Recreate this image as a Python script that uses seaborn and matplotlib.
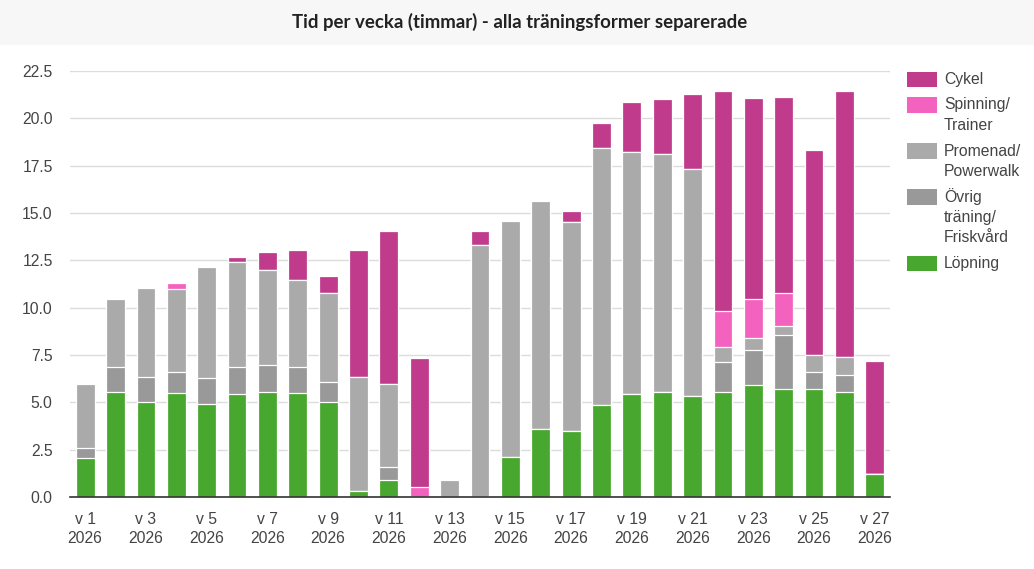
import numpy as np
import pandas as pd
import matplotlib
matplotlib.use("Agg")
import matplotlib.pyplot as plt
from matplotlib.patches import Rectangle
import seaborn as sns

weeks = [f"v {i}" for i in range(1, 28)]
year = "2026"

lopning = [2.05, 5.55, 5.0, 5.5, 4.9, 5.45, 5.55, 5.5, 5.0, 0.3, 0.9, 0.0, 0.0, 0.0,
           2.1, 3.6, 3.5, 4.85, 5.45, 5.55, 5.35, 5.55, 5.9, 5.7, 5.7, 5.55, 1.2]
ovrig = [0.55, 1.3, 1.35, 1.1, 1.4, 1.4, 1.4, 1.35, 1.05, 0.0, 0.7, 0.0, 0.0, 0.0,
         0.0, 0.0, 0.0, 0.0, 0.0, 0.0, 0.0, 1.6, 1.85, 2.85, 0.9, 0.9, 0.0]
promenad = [3.35, 3.6, 4.7, 4.4, 5.85, 5.55, 5.05, 4.6, 4.7, 6.05, 4.35, 0.0, 0.9, 13.3,
            12.5, 12.05, 11.0, 13.6, 12.75, 12.55, 12.0, 0.75, 0.65, 0.5, 0.9, 0.95, 0.0]
spinning = [0.0, 0.0, 0.0, 0.3, 0.0, 0.0, 0.0, 0.0, 0.0, 0.0, 0.0, 0.55, 0.0, 0.0,
            0.0, 0.0, 0.0, 0.0, 0.0, 0.0, 0.0, 1.95, 2.05, 1.7, 0.0, 0.0, 0.0]
cykel = [0.0, 0.0, 0.0, 0.0, 0.0, 0.3, 0.95, 1.6, 0.9, 6.7, 8.1, 6.8, 0.0, 0.75,
         0.0, 0.0, 0.6, 1.3, 2.65, 2.9, 3.95, 11.6, 10.65, 10.4, 10.85, 14.05, 6.0]

series_names = ["Löpning", "Övrig träning/Friskvård", "Promenad/Powerwalk", "Spinning/Trainer", "Cykel"]
legend_labels = ["Löpning", "Övrig\nträning/\nFriskvård", "Promenad/\nPowerwalk", "Spinning/\nTrainer", "Cykel"]
colors = ["#48a72e", "#999999", "#aaaaaa", "#f462bf", "#c13b8c"]

values = [lopning, ovrig, promenad, spinning, cykel]
cum = np.cumsum(np.array(values), axis=0)

sns.set_theme(style="white")
plt.rcParams["font.family"] = ["Liberation Sans", "DejaVu Sans"]

W, H = 1034, 569
fig = plt.figure(figsize=(W / 100, H / 100), dpi=100)
ax = fig.add_axes([70 / W, 72 / H, 820 / W, 426 / H])

# title band
fig.patches.append(Rectangle((0, 1 - 45 / H), 1, 45 / H, transform=fig.transFigure,
                             facecolor="#f7f7f7", edgecolor="none", zorder=0))
fig.text(0.503, 1 - 22 / H, "Tid per vecka (timmar) - alla träningsformer separerade",
         ha="center", va="center", fontsize=13.4, fontweight="bold", color="#222222",
         family=["Lato", "DejaVu Sans"])

# stacked bars: draw cumulative tops, highest layer first
for i in reversed(range(len(values))):
    df = pd.DataFrame({"week": weeks, "total": cum[i]})
    sns.barplot(data=df, x="week", y="total", color=colors[i], saturation=1,
                width=0.62, edgecolor="white", linewidth=0.9, ax=ax, zorder=2)

ax.set_ylim(0, 22.5)
ax.set_xlim(-0.5, len(weeks) - 0.5)
yt = np.arange(0, 22.6, 2.5)
ax.set_yticks(yt)
ax.set_yticklabels([f"{v:.1f}" for v in yt])
xt = list(range(0, len(weeks), 2))
ax.set_xticks(xt)
ax.set_xticklabels([f"{weeks[i]}\n{year}" for i in xt], linespacing=1.35)
ax.set_xlabel("")
ax.set_ylabel("")
ax.yaxis.grid(True, color="#dcdcdc", linewidth=1)
ax.set_axisbelow(True)
for s in ["left", "right", "top"]:
    ax.spines[s].set_visible(False)
ax.spines["bottom"].set_color("#333333")
ax.spines["bottom"].set_linewidth(1.2)
ax.tick_params(axis="y", length=0, pad=12.5, labelsize=11.3, labelcolor="#444444")
ax.tick_params(axis="x", length=0, pad=10.5, labelsize=11.3, labelcolor="#444444")

# legend (top-aligned swatches, like the reference)
y = 78.0
pitch, gap = 20.5, 25.5
for i in reversed(range(len(values))):
    lines = legend_labels[i].split("\n")
    fig.patches.append(Rectangle((907 / W, 1 - (y + 1.5 + 7.5) / H), 30 / W, 15 / H,
                                 transform=fig.transFigure, facecolor=colors[i],
                                 edgecolor="none"))
    for k, line in enumerate(lines):
        fig.text(944 / W, 1 - (y + k * pitch) / H, line, ha="left", va="center_baseline",
                 fontsize=11.3, color="#444444")
    y += (len(lines) - 1) * pitch + gap

fig.savefig("out.png", dpi=100)
